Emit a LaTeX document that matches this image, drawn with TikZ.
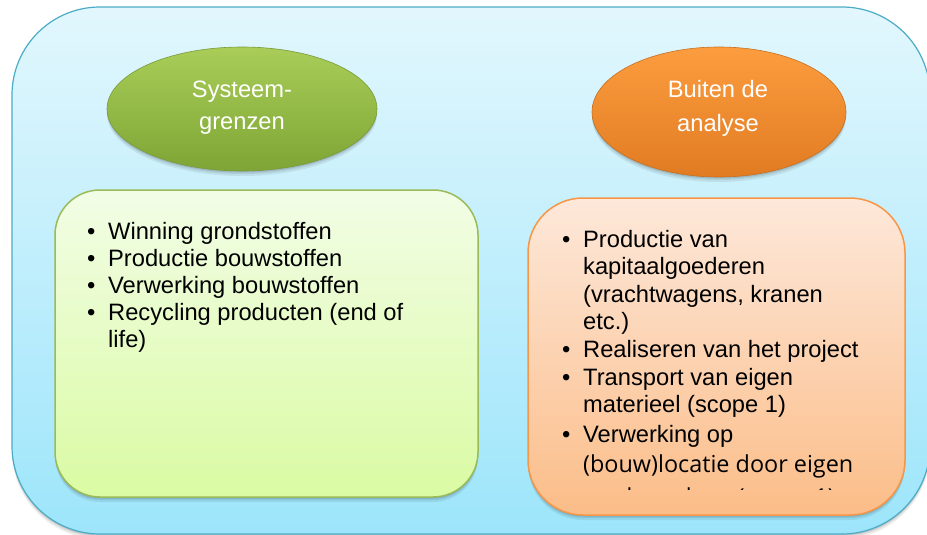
\documentclass[tikz,border=0pt]{standalone}
\usepackage{fontspec}
\setmainfont{Liberation Sans}
\newfontfamily\osans{Open Sans}
\usetikzlibrary{shapes.geometric}
\definecolor{outerTop}{HTML}{E2F7FD}
\definecolor{outerBot}{HTML}{9DE5FB}
\definecolor{outerBorder}{HTML}{4BACC6}
\definecolor{greenTop}{HTML}{F2FDE6}
\definecolor{greenBot}{HTML}{DAFBA3}
\definecolor{greenBorder}{HTML}{9BBB59}
\definecolor{orTop}{HTML}{FDE8DA}
\definecolor{orBot}{HTML}{FBBD88}
\definecolor{orBorder}{HTML}{F79646}
\definecolor{gEllTop}{HTML}{A9CD58}
\definecolor{gEllBot}{HTML}{7EA535}
\definecolor{gEllBorder}{HTML}{7A9A3A}
\definecolor{oEllTop}{HTML}{FC9D3F}
\definecolor{oEllBot}{HTML}{E17B22}
\definecolor{oEllBorder}{HTML}{C8701E}
\newcommand{\blt}{\makebox[21pt][l]{•}}
\tikzset{
  softshadow/.style={
    preaction={fill=black,opacity=.07,transform canvas={yshift=-5pt}},
    preaction={fill=black,opacity=.08,transform canvas={yshift=-3pt}},
    preaction={fill=black,opacity=.10,transform canvas={yshift=-1.5pt}}},
  outerbox/.style={rectangle,rounded corners=88pt,draw=outerBorder,line width=1.2pt,
    top color=outerTop,bottom color=outerBot,softshadow,inner sep=0pt},
  greenbox/.style={rectangle,rounded corners=45pt,draw=greenBorder,line width=1.5pt,
    top color=greenTop,bottom color=greenBot,softshadow,inner sep=0pt},
  orbox/.style={rectangle,rounded corners=55pt,draw=orBorder,line width=1.5pt,
    top color=orTop,bottom color=orBot,softshadow,inner sep=0pt},
  gell/.style={ellipse,draw=gEllBorder,line width=0.6pt,top color=gEllTop,bottom color=gEllBot,
    softshadow,inner sep=0pt},
  oell/.style={ellipse,draw=oEllBorder,line width=0.6pt,top color=oEllTop,bottom color=oEllBot,
    softshadow,inner sep=0pt},
  elltext/.style={text=white,inner sep=0pt,anchor=base},
  listtext/.style={text=black,inner sep=0pt,anchor=base west,
    font=\fontsize{23.7}{27.3}\selectfont},
}
\begin{document}
\begin{tikzpicture}[x=1pt,y=-1pt]
\useasboundingbox (0,0) rectangle (927,535);
\fill[white] (0,0) rectangle (927,535);
% outer container
\node[outerbox,minimum width=918pt,minimum height=527pt] (outer) at (471,270.5) {};
% ellipses
\node[gell,minimum width=270pt,minimum height=124pt] (gE) at (242,109) {};
\node[oell,minimum width=254pt,minimum height=130pt] (oE) at (719,112) {};
\node[elltext,font=\fontsize{23.7}{32}\selectfont] (gEt) at (242,98)
  {\begin{tabular}[t]{@{}c@{}}Systeem-\\grenzen\end{tabular}};
\node[elltext,font=\fontsize{23.7}{34}\selectfont] (oEt) at (718,98)
  {\begin{tabular}[t]{@{}c@{}}Buiten de\\analyse\end{tabular}};
% boxes
\node[greenbox,minimum width=423pt,minimum height=307pt] (gB) at (266.5,343.5) {};
\node[orbox,minimum width=377pt,minimum height=317pt] (oB) at (716.5,356.5) {};
% green list
\node[listtext,font=\fontsize{23.7}{27}\selectfont] (gL) at (87,239)
  {\begin{tabular}[t]{@{}l@{}l@{}}
  \blt & Winning grondstoffen\\
  \blt & Productie bouwstoffen\\
  \blt & Verwerking bouwstoffen\\
  \blt & Recycling producten (end of\\
       & life)
  \end{tabular}};
% orange list (clipped at bottom of text frame)
\begin{scope}
\clip (528,198) rectangle (905,489);
\node[listtext,font=\fontsize{23.7}{27.6}\selectfont] (oL) at (562,247)
  {\begin{tabular}[t]{@{}l@{}l@{}}
  \blt & Productie van\\
       & kapitaalgoederen\\
       & (vrachtwagens, kranen\\
       & etc.)\\
  \blt & Realiseren van het project\\
  \blt & Transport van eigen\\
       & materieel (scope 1)\\[2.4pt]
  \blt & Verwerking op\\[2.4pt]
       & {\osans\fontsize{23.4}{27.6}\selectfont (bouw)locatie door eigen}\\[5pt]
       & {\osans\fontsize{23.4}{27.6}\selectfont medewerkers (scope 1)}
  \end{tabular}};
\end{scope}
\end{tikzpicture}
\end{document}
